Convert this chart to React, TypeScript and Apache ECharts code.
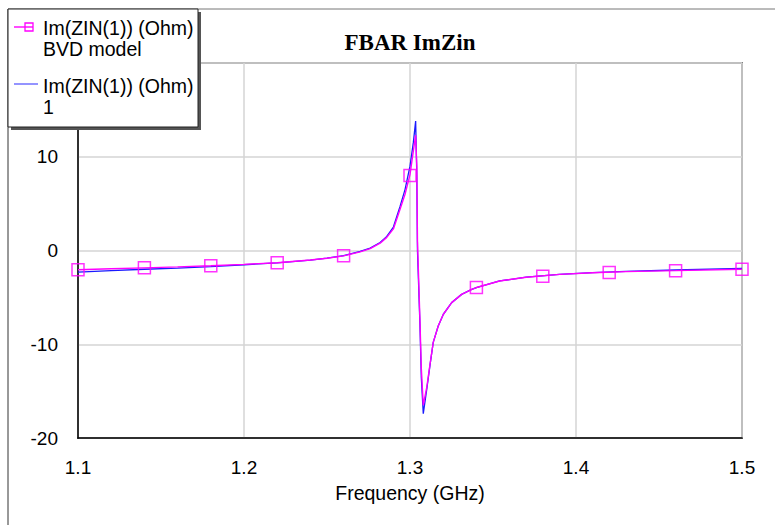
import React, { useEffect, useRef } from "react";
import * as echarts from "echarts";

// Frequency sample points (GHz)
const freqGHz = [
  1.1, 1.12, 1.14, 1.16, 1.18, 1.2, 1.22, 1.24, 1.25, 1.26, 1.27, 1.276, 1.282,
  1.286, 1.29, 1.294, 1.297, 1.3, 1.302, 1.3034, 1.3041, 1.3045, 1.306, 1.3068,
  1.308, 1.3101, 1.312, 1.314, 1.317, 1.3201, 1.3251, 1.3311, 1.3372, 1.34,
  1.354, 1.37, 1.39, 1.41, 1.43, 1.46, 1.5,
];

// Im(ZIN(1)) (Ohm) — trace "1" (blue)
const imZinOne = [
  -2.3, -2.15, -2.0, -1.88, -1.72, -1.52, -1.32, -1.02, -0.82, -0.55, -0.1,
  0.25, 0.85, 1.5, 2.5, 4.7, 6.5, 9.0, 11.5, 13.8, 8.0, 0.0, -8.0, -13.5,
  -17.4, -14.8, -12.3, -9.8, -8.05, -6.8, -5.56, -4.68, -4.15, -3.95, -3.25,
  -2.85, -2.55, -2.35, -2.22, -2.08, -1.9,
];

// Im(ZIN(1)) (Ohm) — BVD model (magenta)
const imZinBVD = [
  -2.05, -1.95, -1.85, -1.75, -1.63, -1.48, -1.3, -1.02, -0.82, -0.57, -0.14,
  0.2, 0.78, 1.4, 2.3, 4.4, 6.0, 8.1, 10.6, 12.3, 9.0, 1.0, -7.5, -12.5, -16.5,
  -14.6, -12.2, -9.8, -8.05, -6.8, -5.56, -4.68, -4.15, -3.95, -3.25, -2.85,
  -2.55, -2.37, -2.25, -2.15, -2.0,
];

// Marker positions of the BVD model trace
const markerFreqGHz = [1.1, 1.14, 1.18, 1.22, 1.26, 1.3, 1.34, 1.38, 1.42, 1.46, 1.5];
const markerBVD = [-2.05, -1.85, -1.63, -1.3, -0.57, 8.0, -3.95, -2.75, -2.35, -2.15, -2.0];

const xMin = 1.1;
const xMax = 1.5;
const xStep = 0.1;
const yMin = -20;
const yMax = 20;
const yStep = 10;

const titleText = "FBAR ImZin";
const xAxisName = "Frequency (GHz)";
const legendNames = [
  ["Im(ZIN(1)) (Ohm)", "BVD model"],
  ["Im(ZIN(1)) (Ohm)", "1"],
];

const MAGENTA = "#ff00ff";
const BLUE = "#1a1aff";
const SANS = "'Liberation Sans', Arial, sans-serif";

export default function App() {
  const ref = useRef<HTMLDivElement>(null);

  useEffect(() => {
    if (!ref.current) return;
    const chart = echarts.init(ref.current, null, { renderer: "svg" });

    const bvdLine = freqGHz.map((f, i) => [f, imZinBVD[i]]);
    const oneLine = freqGHz.map((f, i) => [f, imZinOne[i]]);
    const bvdMarkers = markerFreqGHz.map((f, i) => [f, markerBVD[i]]);

    chart.setOption({
      animation: false,
      backgroundColor: "#ffffff",
      title: {
        text: titleText,
        left: 410,
        top: 31,
        textAlign: "center",
        padding: 0,
        textStyle: {
          fontFamily: "'Liberation Serif', 'Times New Roman', serif",
          fontWeight: "bold",
          fontSize: 23,
          color: "#000",
        },
      },
      grid: {
        left: 78,
        right: 33,
        top: 63,
        bottom: 87,
        show: true,
        borderColor: "#808080",
        borderWidth: 2,
        backgroundColor: "transparent",
      },
      xAxis: {
        type: "value",
        min: xMin,
        max: xMax,
        interval: xStep,
        name: xAxisName,
        nameLocation: "middle",
        nameGap: 45,
        nameTextStyle: { fontFamily: SANS, fontSize: 19.5, color: "#000" },
        axisLine: { show: true, onZero: false, lineStyle: { color: "#000", width: 1.5 } },
        axisTick: { show: false },
        axisLabel: {
          margin: 20,
          fontFamily: SANS,
          fontSize: 19,
          color: "#000",
          formatter: (v: number) => v.toFixed(1),
        },
        splitLine: { show: true, lineStyle: { color: "#d4d4d4", width: 1.5 } },
      },
      yAxis: {
        type: "value",
        min: yMin,
        max: yMax,
        interval: yStep,
        axisLine: { show: true, onZero: false, lineStyle: { color: "#000", width: 1.5 } },
        axisTick: { show: false },
        axisLabel: {
          margin: 20,
          fontFamily: SANS,
          fontSize: 19,
          color: "#000",
          formatter: (v: number) => (v === yMax ? "" : String(v)),
        },
        splitLine: { show: true, lineStyle: { color: "#d4d4d4", width: 1.5 } },
      },
      series: [
        {
          name: "Im(ZIN(1)) (Ohm) 1",
          type: "line",
          data: oneLine,
          showSymbol: false,
          symbol: "none",
          lineStyle: { color: BLUE, width: 1.3 },
          z: 2,
        },
        {
          name: "Im(ZIN(1)) (Ohm) BVD model",
          type: "line",
          data: bvdLine,
          showSymbol: false,
          symbol: "none",
          lineStyle: { color: MAGENTA, width: 1.4 },
          z: 3,
        },
        {
          name: "BVD markers",
          type: "scatter",
          data: bvdMarkers,
          symbol: "rect",
          symbolSize: 12,
          itemStyle: { color: "rgba(0,0,0,0)", borderColor: MAGENTA, borderWidth: 1.5 },
          z: 4,
        },
      ],
      graphic: [
        { type: "line", shape: { x1: 8, y1: 9, x2: 775, y2: 9 }, style: { stroke: "#777", lineWidth: 1 }, z: 50 },
        { type: "line", shape: { x1: 8, y1: 9, x2: 8, y2: 525 }, style: { stroke: "#333", lineWidth: 1 }, z: 50 },
        {
          type: "group",
          z: 100,
          children: [
            { type: "rect", shape: { x: 11, y: 12, width: 190, height: 118 }, style: { fill: "#555" }, z: 100 },
            { type: "rect", shape: { x: 8, y: 9, width: 190, height: 118 }, style: { fill: "#fff", stroke: "#222", lineWidth: 1 }, z: 101 },
            { type: "line", shape: { x1: 14, y1: 27, x2: 33, y2: 27 }, style: { stroke: MAGENTA, lineWidth: 1.4 }, z: 102 },
            { type: "rect", shape: { x: 25, y: 23, width: 8, height: 8 }, style: { fill: "none", stroke: MAGENTA, lineWidth: 1.3 }, z: 102 },
            { type: "text", x: 43, y: 28, style: { text: legendNames[0][0], font: `19.5px ${SANS}`, fill: "#000", verticalAlign: "middle" }, z: 102 },
            { type: "text", x: 43, y: 49, style: { text: legendNames[0][1], font: `19.5px ${SANS}`, fill: "#000", verticalAlign: "middle" }, z: 102 },
            { type: "line", shape: { x1: 14, y1: 84, x2: 38, y2: 84 }, style: { stroke: "#6666ff", lineWidth: 1.4 }, z: 102 },
            { type: "text", x: 43, y: 86, style: { text: legendNames[1][0], font: `19.5px ${SANS}`, fill: "#000", verticalAlign: "middle" }, z: 102 },
            { type: "text", x: 43, y: 107, style: { text: legendNames[1][1], font: `19.5px ${SANS}`, fill: "#000", verticalAlign: "middle" }, z: 102 },
          ],
        },
      ],
    });

    return () => chart.dispose();
  }, []);

  return (
    <div
      ref={ref}
      style={{ position: "fixed", left: 0, top: 0, width: 775, height: 525, background: "#fff" }}
    />
  );
}
